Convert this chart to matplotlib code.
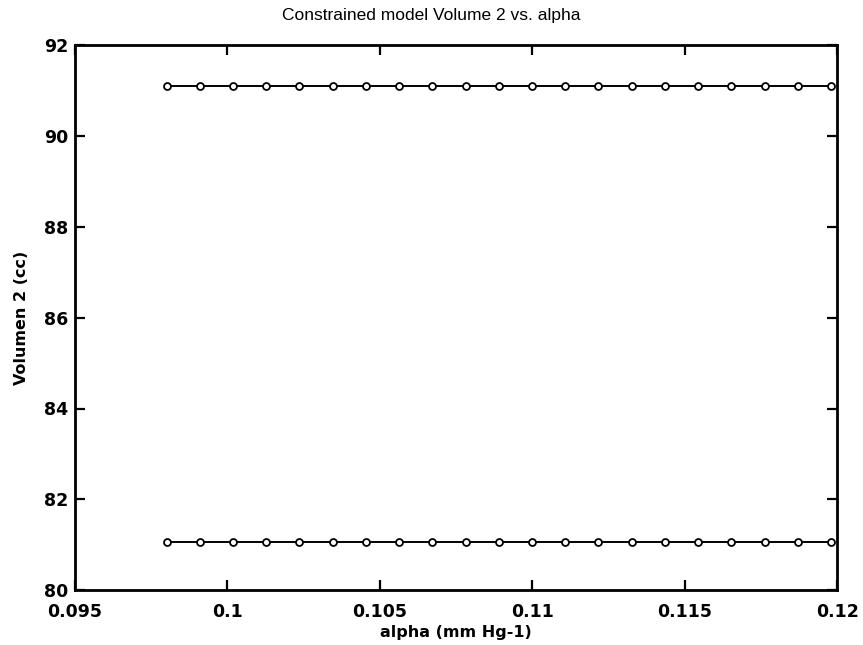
import matplotlib
matplotlib.use("Agg")
import matplotlib.pyplot as plt

# alpha sweep (mm Hg^-1) and the resulting Volume 2 (cc) for the two solutions
alpha = [0.098 + 0.00109 * i for i in range(21)]
volume_upper = [91.1] * 21
volume_lower = [81.05] * 21

x_ticks = [0.095, 0.1, 0.105, 0.11, 0.115, 0.12]
x_tick_labels = ["0.095", "0.1", "0.105", "0.11", "0.115", "0.12"]
y_ticks = [80, 82, 84, 86, 88, 90, 92]
y_tick_labels = ["80", "82", "84", "86", "88", "90", "92"]

plt.rcParams["font.family"] = ["DejaVu Sans"]

fig = plt.figure(figsize=(8.63, 6.45), dpi=100)
ax = fig.add_axes([0.087, 0.085, 0.883, 0.845])

for series in (volume_upper, volume_lower):
    ax.plot(alpha, series, color="black", linewidth=1.4, marker="o",
            markersize=5, markerfacecolor="white", markeredgecolor="black",
            markeredgewidth=1.3)

ax.set_xlim(0.095, 0.12)
ax.set_ylim(80, 92)
ax.set_xticks(x_ticks)
ax.set_xticklabels(x_tick_labels)
ax.set_yticks(y_ticks)
ax.set_yticklabels(y_tick_labels)

ax.tick_params(direction="in", top=True, right=True, length=7, width=1.6,
               labelsize=12.5)
ax.tick_params(axis="x", pad=9)
ax.tick_params(axis="y", pad=5)
for lbl in ax.get_xticklabels() + ax.get_yticklabels():
    lbl.set_fontweight("bold")
for spine in ax.spines.values():
    spine.set_linewidth(2)

fig.text(0.5, 0.976, "Constrained model Volume 2 vs. alpha", fontsize=12.5,
         fontfamily="Liberation Sans", ha="center", va="center")
ax.set_xlabel("alpha (mm Hg-1)", fontsize=11.5, fontweight="bold", labelpad=3)
ax.set_ylabel("Volumen 2 (cc)", fontsize=11.5, fontweight="bold", labelpad=11)

fig.savefig("out.png", dpi=100, facecolor="white")
